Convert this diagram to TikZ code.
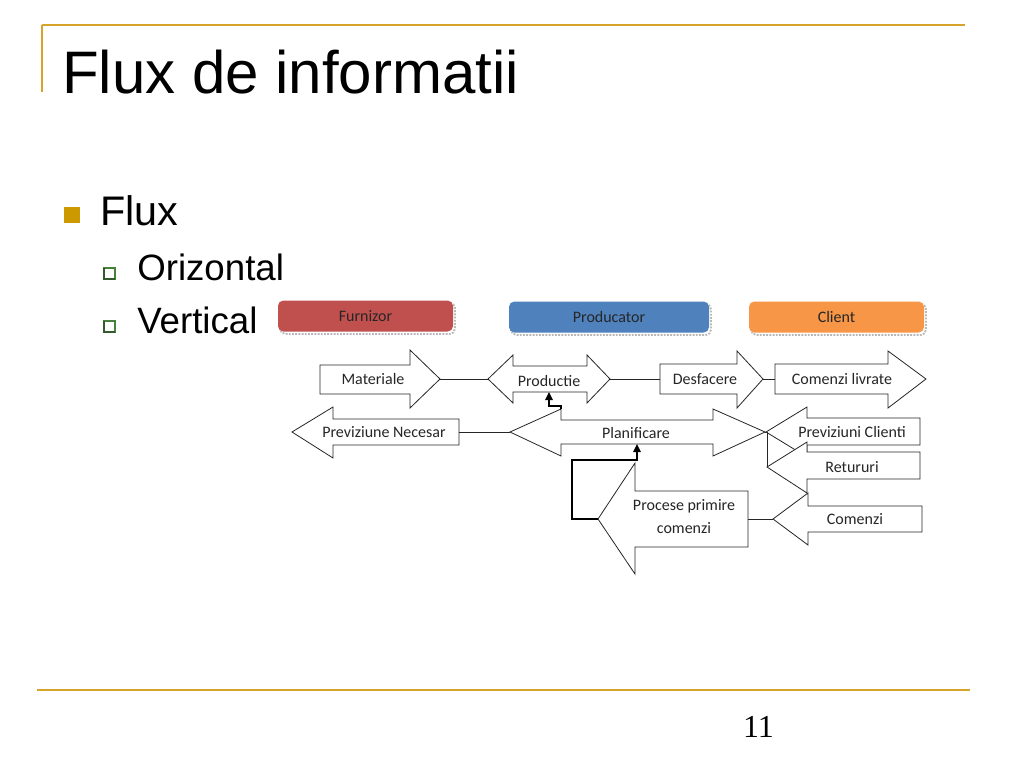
\documentclass[tikz,border=0pt]{standalone}
\usepackage{fontspec}
\setmainfont{Liberation Sans}
\newfontfamily\diagfont{Carlito}
\newfontfamily\numfont{Liberation Serif}
\usetikzlibrary{arrows.meta}
\definecolor{gold}{RGB}{214,164,40}
\definecolor{goldsq}{RGB}{204,153,0}
\definecolor{furncol}{RGB}{192,80,77}
\definecolor{prodcol}{RGB}{79,129,189}
\definecolor{clientcol}{RGB}{247,150,70}
\definecolor{subgreen}{RGB}{70,130,60}
\tikzset{
  flowshape/.style={draw=black!85, line width=0.6pt, fill=white, line join=miter},
  link/.style={draw=black!85, line width=0.6pt},
  boldlink/.style={draw=black, line width=1.6pt, line join=miter, -{Triangle[length=6pt,width=5.5pt]}},
  lbl/.style={font=\diagfont\fontsize{12}{14}\selectfont, text=black!85, inner sep=0pt},
  hdr/.style={rounded corners=4pt, inner sep=0pt, font=\diagfont\fontsize{12}{14}\selectfont, text=black!85},
  hdrshadow/.style={rounded corners=4pt, draw=gray!55, line width=1.4pt, densely dotted},
  rule/.style={draw=gold, line width=1.5pt},
}
\begin{document}
\begin{tikzpicture}[x=0.75pt,y=-0.75pt]
\useasboundingbox[fill=white] (0,0) rectangle (1024,768);

% slide frame
\draw[rule] (42,25) -- (965,25);
\draw[rule] (42,25) -- (42,92);
\draw[rule] (37,690) -- (970,690);

% title and bullets
\node[anchor=base west, inner sep=0pt, font=\fontsize{45}{52}\selectfont] (title) at (62,93) {Flux de informatii};
\fill[goldsq] (64,207) rectangle (80,223);
\node[anchor=base west, inner sep=0pt, font=\fontsize{31}{36}\selectfont] (flux) at (100,225) {Flux};
\draw[subgreen, line width=1.2pt, fill=white] (104,268) rectangle (115,279);
\draw[subgreen!70!black, line width=1.6pt] (104,268) -- (104,279) -- (115,279);
\node[anchor=base west, inner sep=0pt, font=\fontsize{27.5}{32}\selectfont] (oriz) at (137,280) {Orizontal};
\draw[subgreen, line width=1.2pt, fill=white] (104,321) rectangle (115,332);
\draw[subgreen!70!black, line width=1.6pt] (104,321) -- (104,332) -- (115,332);
\node[anchor=base west, inner sep=0pt, font=\fontsize{27.5}{32}\selectfont] (vert) at (137,333) {Vertical};

\node[anchor=base, inner sep=0pt, font=\numfont\fontsize{24}{28}\selectfont] (pnum) at (758.5,737) {11};

% header boxes
\draw[hdrshadow] (280,303) rectangle (455,334);
\node[hdr, fill=furncol, minimum width=131.25pt, minimum height=23.25pt] (furn) at (365.5,316) {Furnizor};
\draw[hdrshadow] (511,304) rectangle (711,335);
\node[hdr, fill=prodcol, minimum width=150pt, minimum height=23.25pt] (prodc) at (609,317) {Producator};
\draw[hdrshadow] (751,304) rectangle (926,335);
\node[hdr, fill=clientcol, minimum width=131.25pt, minimum height=23.25pt] (client) at (836.5,317) {Client};

% --- flow arrows ---
% Materiale (right)
\draw[flowshape] (320,365) -- (410,365) -- (410,350) -- (440,379) -- (410,408) -- (410,394) -- (320,394) -- cycle;
\coordinate (mat-tip) at (440,379);
\node[lbl] (mat) at (373,379) {Materiale};

% Productie (double)
\draw[flowshape] (488,379) -- (513,355) -- (513,366) -- (587,366) -- (587,355) -- (610,379) -- (587,403) -- (587,392) -- (513,392) -- (513,403) -- cycle;
\coordinate (prod-ltip) at (488,379);
\coordinate (prod-rtip) at (610,379);
\coordinate (prod-bot) at (549,392);
\node[lbl] (prod) at (549,381) {Productie};

% Desfacere (right)
\draw[flowshape] (660,364) -- (737,364) -- (737,351) -- (763,379) -- (737,408) -- (737,394) -- (660,394) -- cycle;
\coordinate (desf-left) at (660,379);
\coordinate (desf-tip) at (763,379);
\node[lbl] (desf) at (705,379) {Desfacere};

% Comenzi livrate (right)
\draw[flowshape] (775,364) -- (888,364) -- (888,351) -- (926,379) -- (888,408) -- (888,394) -- (775,394) -- cycle;
\coordinate (cliv-left) at (775,379);
\node[lbl] (cliv) at (842,379) {Comenzi livrate};

% Previziune Necesar (left)
\draw[flowshape] (292,432) -- (333,407) -- (333,419) -- (459,419) -- (459,445) -- (333,445) -- (333,458) -- cycle;
\coordinate (pnec-right) at (459,432);
\node[lbl] (pnec) at (384,432) {Previziune Necesar};

% Planificare (double)
\draw[flowshape] (510,432) -- (561,409) -- (561,420) -- (713,420) -- (713,409) -- (765,432) -- (713,456) -- (713,444) -- (561,444) -- (561,456) -- cycle;
\coordinate (plan-ltip) at (510,432);
\coordinate (plan-rtip) at (765,432);
\coordinate (plan-corner) at (561,409);
\coordinate (plan-bot) at (637,444);
\node[lbl] (plan) at (636,433) {Planificare};

% Previziuni Clienti (left)
\draw[flowshape] (766,432) -- (807,407) -- (807,418) -- (920,418) -- (920,445) -- (807,445) -- (807,457) -- cycle;
\coordinate (pcli-tip) at (766,432);
\node[lbl] (pcli) at (852,432) {Previziuni Clienti};

% Retururi (left)
\draw[flowshape] (767,467) -- (807,442) -- (807,452) -- (920,452) -- (920,479) -- (807,479) -- (807,493) -- cycle;
\coordinate (ret-tip) at (767,467);
\node[lbl] (ret) at (852,467) {Retururi};

% Comenzi (left)
\draw[flowshape] (773,519) -- (808,493) -- (808,506) -- (922,506) -- (922,532) -- (808,532) -- (808,545) -- cycle;
\coordinate (com-tip) at (773,519);
\node[lbl] (com) at (855,519) {Comenzi};

% Procese primire comenzi (left)
\draw[flowshape] (598,519) -- (635,463) -- (635,491) -- (748,491) -- (748,547) -- (635,547) -- (635,574) -- cycle;
\coordinate (proc-tip) at (598,519);
\coordinate (proc-right) at (748,519);
\node[lbl, align=center, font=\diagfont\fontsize{12}{17.25}\selectfont] (proc) at (684,517) {Procese primire\\comenzi};

% --- connectors ---
\draw[link] (mat-tip) -- (prod-ltip);
\draw[link] (prod-rtip) -- (desf-left);
\draw[link] (desf-tip) -- (cliv-left);
\draw[link] (pnec-right) -- (plan-ltip);
\draw[link] (plan-rtip) -- (pcli-tip);
\draw[link] (767,432) -- (ret-tip);
\draw[link] (proc-right) -- (com-tip);
\draw[boldlink] (plan-corner) -- (561,406) -- (549,406) -- (prod-bot);
\draw[boldlink] (proc-tip) -- (572,519) -- (572,460) -- (637,460) -- (plan-bot);
\end{tikzpicture}
\end{document}
